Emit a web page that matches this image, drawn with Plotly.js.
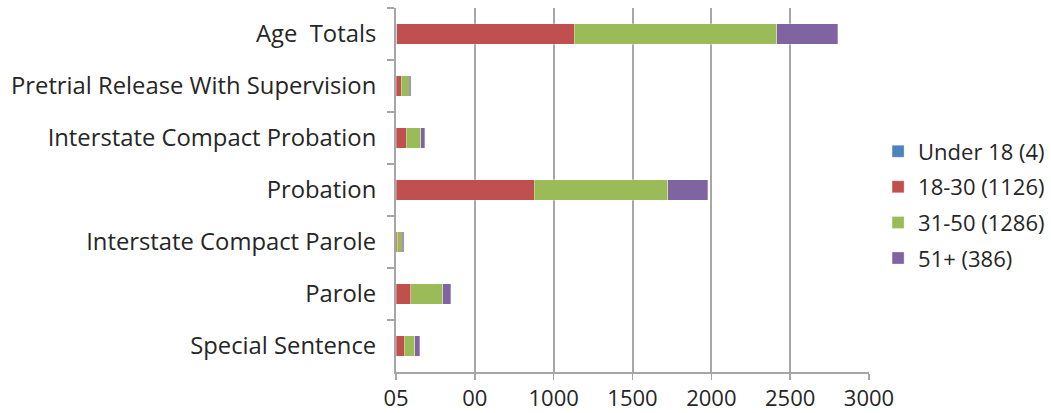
<!DOCTYPE html>
<html>
<head>
<meta charset="utf-8">
<script src="https://cdn.plot.ly/plotly-3.0.1.min.js"></script>
<style>html,body{margin:0;padding:0;background:#fff;}#chart{width:1051px;height:413px;}</style>
</head>
<body>
<div id="chart"></div>
<script>
var categories = ["Age  Totals", "Pretrial Release With Supervision", "Interstate Compact Probation", "Probation", "Interstate Compact Parole", "Parole", "Special Sentence"];
var seriesNames = ["Under 18 (4)", "18-30 (1126)", "31-50 (1286)", "51+ (386)"];
var under18 = [4, 1, 0, 2, 0, 0, 1];
var age18to30 = [1126, 33, 66, 875, 9, 93, 50];
var age31to50 = [1286, 49, 91, 845, 30, 203, 68];
var age51plus = [386, 12, 26, 255, 10, 50, 33];
var tickVals = [0, 500, 1000, 1500, 2000, 2500, 3000];
var tickText = ["05", "00", "1000", "1500", "2000", "2500", "3000"];

var colors = ["#4F81BD", "#C0504D", "#9BBB59", "#8064A2"];
var seriesData = [under18, age18to30, age31to50, age51plus];
var FONT = "Open Sans, sans-serif";

var traces = seriesData.map(function (vals, i) {
  return {
    type: "bar",
    orientation: "h",
    name: seriesNames[i],
    legendgroup: "g" + i,
    x: vals,
    y: categories,
    marker: { color: colors[i], line: { color: "rgba(255,255,255,0.6)", width: 0.5 } },
    hoverinfo: "x+name"
  };
});

var layout = {
  width: 1051,
  height: 413,
  margin: { l: 396, r: 0, t: 8, b: 41, pad: 0, autoexpand: false },
  barmode: "stack",
  bargap: 0.61,
  paper_bgcolor: "#ffffff",
  plot_bgcolor: "#ffffff",
  font: { family: FONT, size: 22, color: "#262626" },
  showlegend: true,
  legend: {
    x: 0.736, y: 0.459, xanchor: "left", yanchor: "middle",
    traceorder: "grouped",
    font: { family: FONT, size: 22, color: "#262626" },
    itemwidth: 30,
    tracegroupgap: 4,
    bgcolor: "rgba(0,0,0,0)"
  },
  xaxis: {
    domain: [0, 473 / 655],
    automargin: false,
    range: [0, 3000],
    tickmode: "array",
    tickvals: tickVals,
    ticktext: tickText,
    showgrid: true,
    gridcolor: "#A6A6A6",
    gridwidth: 2,
    zeroline: false,
    showline: true,
    linecolor: "#A6A6A6",
    linewidth: 2,
    ticks: "outside",
    ticklen: 6,
    tickwidth: 1.5,
    tickcolor: "#A6A6A6",
    tickfont: { family: FONT, size: 22, color: "#262626" },
    fixedrange: true
  },
  yaxis: {
    type: "category",
    automargin: false,
    autorange: "reversed",
    showgrid: false,
    zeroline: false,
    showline: true,
    linecolor: "#A6A6A6",
    linewidth: 2,
    ticks: "outside",
    tickson: "boundaries",
    ticklen: 7,
    tickwidth: 1.5,
    tickcolor: "#A6A6A6",
    ticklabelstandoff: 13,
    tickfont: { family: FONT, size: 23.8, color: "#262626" },
    fixedrange: true
  }
};

Plotly.newPlot("chart", traces, layout, { displayModeBar: false, staticPlot: true });
</script>
</body>
</html>
